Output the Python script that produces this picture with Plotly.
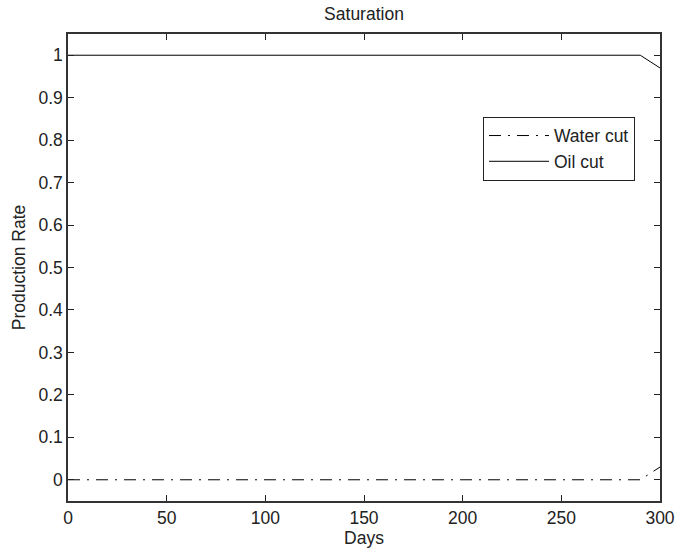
import plotly.graph_objects as go

days = [0, 50, 100, 150, 200, 250, 290, 300]
water_cut = [0, 0, 0, 0, 0, 0, 0, 0.03]
oil_cut = [1, 1, 1, 1, 1, 1, 1, 0.97]

x_ticks = [0, 50, 100, 150, 200, 250, 300]
y_ticks = [0, 0.1, 0.2, 0.3, 0.4, 0.5, 0.6, 0.7, 0.8, 0.9, 1]
y_labels = ["0", "0.1", "0.2", "0.3", "0.4", "0.5", "0.6", "0.7", "0.8", "0.9", "1"]

FS = 17.5

fig = go.Figure()
fig.add_trace(go.Scatter(x=days, y=water_cut, mode="lines", name="Water cut",
                         line=dict(color="black", width=1, dash="12px,7px,2px,7px")))
fig.add_trace(go.Scatter(x=days, y=oil_cut, mode="lines", name="Oil cut",
                         line=dict(color="black", width=1)))

axis_common = dict(showgrid=False, zeroline=False, ticks="inside", ticklen=6,
                   tickcolor="#222222", linecolor="#333333", linewidth=1.5, mirror="ticks",
                   showline=True, automargin=False,
                   tickfont=dict(size=FS, color="#222222"))

fig.update_layout(
    width=676, height=550,
    margin=dict(l=68, r=16, t=34, b=49),
    paper_bgcolor="white", plot_bgcolor="white",
    font=dict(family="Liberation Sans, Arial, sans-serif", size=FS, color="#222222"),
    title=dict(text="Saturation", x=0.5, xref="paper", xanchor="center",
               y=0.975, yanchor="middle", font=dict(size=FS)),
    xaxis=dict(range=[0, 300], tickvals=x_ticks,
               title=dict(text="Days", standoff=2, font=dict(size=FS)),
               **axis_common),
    yaxis=dict(range=[-0.05, 1.05], tickvals=y_ticks, ticktext=y_labels,
               title=dict(text="Production Rate", standoff=8, font=dict(size=FS)),
               **axis_common),
    legend=dict(x=0.701, y=0.823, xanchor="left", yanchor="top",
                bordercolor="#222222", borderwidth=1, bgcolor="white",
                font=dict(size=FS), itemwidth=60, tracegroupgap=0),
    showlegend=True,
)

fig.write_html("out.html")
